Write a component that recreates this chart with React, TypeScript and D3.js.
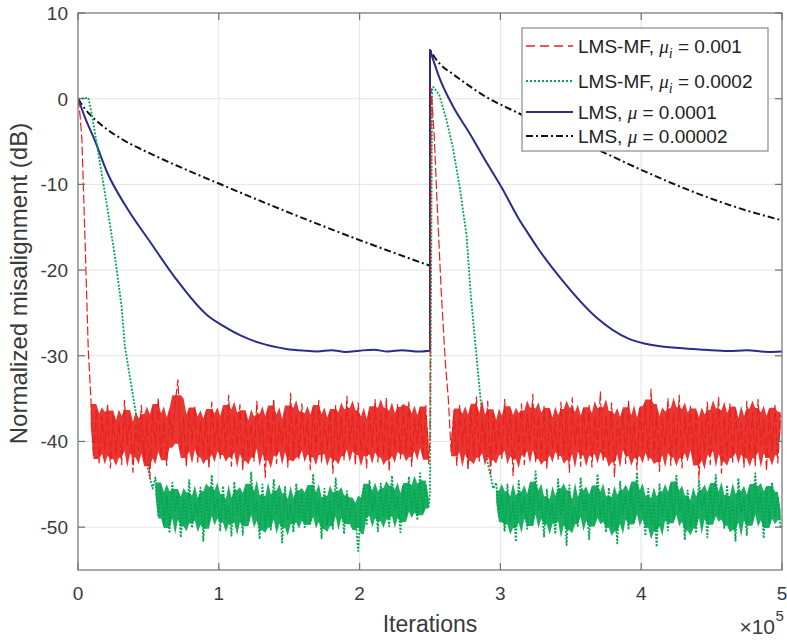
import * as d3 from "d3";

// x ticks are in units of 1e5 iterations
const xTickLabels = ["0", "1", "2", "3", "4", "5"];
const yTickValues = [10, 0, -10, -20, -30, -40, -50];

// LMS-MF, mu_i = 0.001 (red)
const redDescentA: [number, number][] = [[0, 0], [1500, -2], [2800, -4.8], [5000, -16.5], [7300, -29.3]];
const redNoiseA = [
  -34.5,
  -41.8, -36.2, -42.5, -37.0, -40.9, -35.6, -43.1, -36.8, -41.5, -37.9,
  -42.7, -35.2, -40.3, -36.9, -43.6, -38.1, -41.0, -35.8, -42.2, -37.3,
  -44.3, -36.0, -40.8, -34.9, -41.9, -37.6, -42.8, -36.4, -39.7, -35.5,
  -32.8, -41.4, -37.2, -43.0, -36.1, -40.2, -35.9, -42.4, -37.7, -41.6,
  -36.6, -43.2, -35.4, -40.7, -37.4, -42.1, -36.3, -41.3, -34.6, -42.9,
  -37.1, -40.5, -35.7, -43.4, -36.7, -41.7, -38.0, -42.3, -35.3, -40.1,
  -37.5, -44.2, -36.2, -41.2, -35.0, -42.6, -37.8, -40.4, -36.5, -43.0,
  -34.4, -41.8, -36.9, -42.0, -35.6, -40.6, -37.3, -43.3, -36.0, -41.1,
  -35.2, -42.5, -37.6, -40.9, -36.4, -43.7, -35.8, -41.5, -37.0, -42.2,
  -34.7, -40.3, -36.8, -42.8, -35.5, -41.0, -37.9, -43.1, -36.3, -40.7,
  -35.1, -42.4, -36.6, -41.6, -34.9, -43.5, -37.2, -40.8, -35.7, -42.0,
  -36.1, -41.3, -35.4, -42.9, -37.4, -40.2, -36.0, -41.9, -35.8, -42.6,
];
const redDescentB: [number, number][] = [[250000, -39.5], [250800, 1.2], [253000, -4.3], [255000, -12], [258000, -22.6], [261000, -31], [263000, -35]];
const redNoiseB = [
  -41.2, -36.4, -42.8, -35.7, -40.5, -37.3, -43.4, -36.0, -41.7, -34.8,
  -42.3, -37.6, -40.9, -35.3, -43.8, -36.7, -41.4, -37.9, -42.0, -35.1,
  -40.6, -36.3, -44.0, -37.2, -41.1, -35.6, -42.7, -36.8, -40.3, -34.5,
  -42.5, -37.0, -41.8, -35.9, -43.2, -36.2, -40.8, -37.7, -42.1, -35.4,
  -41.5, -36.6, -43.6, -34.9, -40.4, -37.4, -42.9, -36.1, -41.0, -35.8,
  -43.0, -37.1, -40.7, -34.2, -42.4, -36.9, -41.6, -35.5, -44.1, -37.5,
  -40.2, -36.4, -42.6, -35.2, -41.3, -37.8, -43.3, -36.0, -40.9, -35.7,
  -42.2, -33.9, -41.9, -36.5, -43.5, -37.3, -40.6, -35.0, -42.8, -36.7,
  -41.4, -34.6, -43.1, -37.0, -40.5, -35.9, -42.0, -36.3, -44.4, -37.6,
  -41.1, -35.4, -42.7, -36.8, -40.3, -34.8, -43.7, -37.2, -41.7, -35.6,
  -42.4, -36.1, -40.8, -37.9, -43.0, -35.3, -41.5, -36.6,
  -42.9, -35.1, -40.4, -37.4, -43.4, -36.2, -41.2, -35.8, -42.5, -36.9,
];

// LMS-MF, mu_i = 0.0002 (green)
const greenDescentA: [number, number][] = [[0, 0], [7300, 0.1], [9700, -1.7], [16800, -8.7], [21500, -13.4], [26200, -18.4], [31000, -24.3], [33300, -28.9], [40000, -35.6], [45000, -40.3], [50000, -43.4], [53000, -45.5]];
const greenNoiseA = [
  -44.2, -48.6, -45.1, -49.8, -46.3, -50.7, -44.8, -48.1, -45.9, -51.2,
  -46.7, -49.3, -44.5, -50.1, -47.2, -48.8, -45.4, -51.6, -46.0, -49.5,
  -43.9, -48.3, -46.6, -50.4, -45.2, -49.0, -47.5, -51.0, -44.7, -48.7,
  -46.2, -50.9, -45.6, -49.4, -43.6, -48.2, -46.9, -51.4, -45.0, -49.9,
  -47.1, -50.3, -44.4, -48.5, -46.4, -51.8, -45.3, -49.2, -47.4, -50.6,
  -44.9, -48.9, -46.1, -50.0, -45.7, -49.6, -43.8, -48.4, -47.0, -51.3,
  -45.5, -49.7, -46.8, -50.2, -44.3, -48.0, -46.5, -50.8, -45.8, -49.1,
  -46.9, -48.6, -52.8, -47.3, -45.1, -49.8, -44.6, -48.2, -46.3, -50.5,
  -44.9, -48.7, -45.7, -49.9, -44.0, -48.1, -46.4, -50.6, -45.2, -48.8,
  -44.1, -47.9, -45.6, -49.2, -43.7, -48.3, -45.0, -47.6,
];
const greenDescentB: [number, number][] = [[250000, -46], [251500, 1.3], [252500, 1.35], [256700, 0.4], [261500, -2.35], [266000, -5.5], [271000, -10.2], [276000, -16], [279000, -23], [283000, -30], [287000, -37], [291000, -42.5], [295000, -45.5]];
const greenNoiseB = [
  -44.8, -48.9, -46.2, -50.5, -45.0, -49.3, -47.1, -51.7, -44.6, -48.4,
  -46.5, -50.2, -45.3, -49.7, -43.5, -48.0, -46.8, -51.1, -45.6, -49.0,
  -47.3, -50.8, -44.4, -48.6, -46.0, -52.1, -45.1, -49.5, -47.6, -50.0,
  -44.2, -48.2, -46.4, -51.4, -45.8, -49.2, -43.8, -48.8, -46.9, -50.6,
  -45.4, -49.8, -47.0, -51.9, -44.7, -48.5, -46.1, -50.3, -45.2, -49.4,
  -43.6, -48.1, -46.7, -51.0, -45.5, -49.6, -47.2, -52.3, -44.9, -48.7,
  -46.3, -50.4, -45.0, -49.1, -44.0, -48.3, -46.6, -51.5, -45.7, -49.9,
  -47.4, -50.7, -44.5, -48.0, -46.2, -51.2, -45.3, -49.0, -43.9, -48.6,
  -46.8, -50.1, -45.1, -49.7, -47.0, -51.6, -44.3, -48.4, -46.5, -50.9,
  -45.6, -49.3, -43.7, -48.2, -46.0, -51.3, -45.4, -49.5, -44.8, -48.8,
  -46.4, -50.0,
];

// LMS, mu = 0.0001 (blue)
const blueA: [number, number][] = [
  [0, 0], [5000, -2.2], [12000, -4.9], [21000, -8.7], [33000, -12.3], [52000, -16.9], [69000, -20.9],
  [92000, -25.3], [104000, -26.6], [115000, -27.6], [129000, -28.5], [148000, -29.2], [160000, -29.4],
  [170000, -29.5], [180000, -29.35], [190000, -29.55], [200000, -29.4], [210000, -29.3], [220000, -29.5],
  [230000, -29.35], [240000, -29.5], [250000, -29.4],
];
const blueB: [number, number][] = [
  [250000, 5.7], [257000, 2.3], [266000, -0.8], [278000, -4.0], [290000, -7.4], [301000, -10.4],
  [313000, -14.0], [320000, -15.8], [326000, -17.3], [344000, -21.2], [368000, -25.5], [391000, -28.0],
  [403000, -28.6], [427000, -29.1], [445000, -29.3], [462000, -29.45], [475000, -29.35], [490000, -29.55],
  [500000, -29.5],
];

// LMS, mu = 0.00002 (black)
const blackA: [number, number][] = [
  [0, 0], [5000, -1.2], [10000, -2.1], [20000, -3.5], [33000, -4.9], [50000, -6.3], [70000, -7.8],
  [100000, -9.9], [150000, -13.3], [200000, -16.5], [250000, -19.5],
];
const blackB: [number, number][] = [
  [250000, 5.7], [253000, 4.9], [258000, 3.9], [266000, 2.9], [290000, 0.2], [313000, -1.7],
  [340000, -3.8], [375000, -6.4], [400000, -8.3], [439000, -11.0], [470000, -12.8], [500000, -14.2],
];

const noiseStep = 2000;
const redNoiseAStart = 9000;
const redNoiseBStart = 265000;
const greenNoiseAStart = 55000;
const greenNoiseBStart = 297000;

const legendItems = [
  { label: "LMS-MF, ", sym: "μ", sub: "i", value: " = 0.001", color: "#e8201c", dash: "9,5", width: 1.6 },
  { label: "LMS-MF, ", sym: "μ", sub: "i", value: " = 0.0002", color: "#00a650", dash: "2,2", width: 2 },
  { label: "LMS, ", sym: "μ", sub: "", value: " = 0.0001", color: "#2b2b8c", dash: "", width: 2 },
  { label: "LMS, ", sym: "μ", sub: "", value: " = 0.00002", color: "#111111", dash: "7,3,2,3", width: 2 },
];

const noisePoints = (vals: number[], start: number): [number, number][] =>
  vals.map((v, i) => [start + i * noiseStep, v]);

// shade the dense part of a noisy run: between the inner extremes of a small window,
// so the individual extremes still poke out as thin spikes
const envelope = (vals: number[], start: number) =>
  vals.map((_, i) => {
    const win = vals.slice(Math.max(0, i - 2), i + 3).sort((a, b) => a - b);
    const n = win.length;
    return {
      t: start + i * noiseStep,
      lo: (win[0] + 2 * win[1]) / 3,
      hi: (win[n - 1] + 2 * win[n - 2]) / 3,
    };
  });

export default function App() {
  const width = 787;
  const height = 642;
  const left = 78, right = 782, top = 13, bottom = 570;

  const x = d3.scaleLinear().domain([0, 500000]).range([left, right]);
  const y = d3.scaleLinear().domain([-55, 10]).range([bottom, top]);

  const line = d3.line<[number, number]>().x((d) => x(d[0])).y((d) => y(d[1]));
  const smooth = d3
    .line<[number, number]>()
    .x((d) => x(d[0]))
    .y((d) => y(d[1]))
    .curve(d3.curveMonotoneX);
  const band = d3
    .area<{ t: number; lo: number; hi: number }>()
    .x((d) => x(d.t))
    .y0((d) => y(d.lo))
    .y1((d) => y(d.hi));

  const redNA = noisePoints(redNoiseA, redNoiseAStart);
  const redNB = noisePoints(redNoiseB, redNoiseBStart);
  const greenNA = noisePoints(greenNoiseA, greenNoiseAStart);
  const greenNB = noisePoints(greenNoiseB, greenNoiseBStart);

  const redPts = [...redDescentA, ...redNA, ...redDescentB, ...redNB];
  const greenPts = [...greenDescentA, ...greenNA, ...greenDescentB, ...greenNB];
  const joined = (a: [number, number][], b: [number, number][]) =>
    (smooth(a) || "") + (smooth(b) || "").replace(/^M/, "L");

  const xTicks = xTickLabels.map((_, i) => i * 100000);
  const axisColor = "#707070";
  const textColor = "#3a3a3a";
  const font = "'Liberation Sans', Arial, sans-serif";
  const red = "#e8201c";
  const green = "#00a650";

  // legend geometry
  const lg = { x: 522, y: 28, w: 246, h: 123 };
  const rowY = [46, 81, 112, 136];

  return (
    <svg width={width} height={height} style={{ position: "absolute", left: 0, top: 0, background: "#fff" }}>
      <defs>
        <clipPath id="plot">
          <rect x={left} y={top} width={right - left} height={bottom - top} />
        </clipPath>
      </defs>
      <rect x={0} y={0} width={width} height={height} fill="#fff" />
      {/* grid */}
      <g stroke="#e3e3e3" strokeWidth={1}>
        {xTicks.slice(1, -1).map((t) => (
          <line key={"gx" + t} x1={x(t)} x2={x(t)} y1={top} y2={bottom} />
        ))}
        {yTickValues.slice(1).map((v) => (
          <line key={"gy" + v} x1={left} x2={right} y1={y(v)} y2={y(v)} />
        ))}
      </g>

      <g clipPath="url(#plot)" fill="none" strokeLinejoin="round">
        <path d={joined(blackA, blackB)} stroke="#111" strokeWidth={2} strokeDasharray="7,3,2,3" />
        <path d={joined(blueA, blueB)} stroke="#2b2b8c" strokeWidth={2} />
        <path d={band(envelope(greenNoiseA, greenNoiseAStart)) || ""} fill={green} fillOpacity={0.9} stroke="none" />
        <path d={band(envelope(greenNoiseB, greenNoiseBStart)) || ""} fill={green} fillOpacity={0.9} stroke="none" />
        <path d={line(greenPts) || ""} stroke={green} strokeWidth={1.8} strokeDasharray="2,1.5" />
        <path d={band(envelope(redNoiseA, redNoiseAStart)) || ""} fill={red} fillOpacity={0.9} stroke="none" />
        <path d={band(envelope(redNoiseB, redNoiseBStart)) || ""} fill={red} fillOpacity={0.9} stroke="none" />
        <path d={line(redPts) || ""} stroke={red} strokeWidth={1.2} strokeDasharray="9,3" />
      </g>

      {/* axes box */}
      <rect x={left} y={top} width={right - left} height={bottom - top} fill="none" stroke={axisColor} strokeWidth={1.2} />
      <g stroke={axisColor} strokeWidth={1.2}>
        {xTicks.map((t) => (
          <g key={"tx" + t}>
            <line x1={x(t)} x2={x(t)} y1={bottom} y2={bottom - 7} />
            <line x1={x(t)} x2={x(t)} y1={top} y2={top + 7} />
          </g>
        ))}
        {yTickValues.map((v) => (
          <g key={"ty" + v}>
            <line x1={left} x2={left + 7} y1={y(v)} y2={y(v)} />
            <line x1={right} x2={right - 7} y1={y(v)} y2={y(v)} />
          </g>
        ))}
      </g>

      <g fontFamily={font} fontSize={19} fill={textColor}>
        {xTicks.map((t, i) => (
          <text key={"lx" + t} x={x(t)} y={600} textAnchor="middle">
            {xTickLabels[i]}
          </text>
        ))}
        {yTickValues.map((v) => (
          <text key={"ly" + v} x={left - 10} y={y(v)} dy="0.36em" textAnchor="end">
            {v}
          </text>
        ))}
      </g>

      <text x={(left + right) / 2} y={632} textAnchor="middle" fontFamily={font} fontSize={23} fill={textColor}>
        Iterations
      </text>
      <text transform={`translate(27, ${(top + bottom) / 2 - 8}) rotate(-90)`} textAnchor="middle" fontFamily={font} fontSize={24} fill={textColor}>
        Normalized misalignment (dB)
      </text>
      <text x={775} y={634} textAnchor="end" fontFamily={font} fontSize={21} fill={textColor}>
        ×10
      </text>
      <text x={775.5} y={621} fontFamily={font} fontSize={15} fill={textColor}>
        5
      </text>

      {/* legend */}
      <rect x={lg.x} y={lg.y} width={lg.w} height={lg.h} fill="#fff" stroke="#8a8a8a" strokeWidth={1.2} />
      {legendItems.map((it, i) => (
        <g key={"lg" + i}>
          <line
            x1={526}
            x2={573}
            y1={rowY[i]}
            y2={rowY[i]}
            stroke={it.color}
            strokeWidth={it.width}
            strokeDasharray={it.dash || undefined}
          />
          <text x={578} y={rowY[i]} dy="0.36em" fontFamily={font} fontSize={19} fill="#222">
            {it.label}
            <tspan fontFamily="'Liberation Serif', serif" fontStyle="italic">{it.sym}</tspan>
            {it.sub ? (
              <>
                <tspan fontFamily="'Liberation Serif', serif" fontStyle="italic" fontSize={14} dy={5}>
                  {it.sub}
                </tspan>
                <tspan dy={-5}>{it.value}</tspan>
              </>
            ) : (
              <tspan>{it.value}</tspan>
            )}
          </text>
        </g>
      ))}
    </svg>
  );
}
